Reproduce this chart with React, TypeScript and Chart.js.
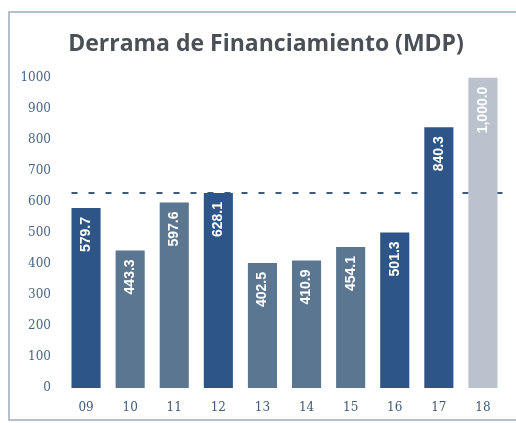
import React, { useEffect, useRef } from "react";
import { Chart, registerables } from "chart.js";

Chart.register(...registerables);

const categories = ["09", "10", "11", "12", "13", "14", "15", "16", "17", "18"];
const values = [579.7, 443.3, 597.6, 628.1, 402.5, 410.9, 454.1, 501.3, 840.3, 1000.0];
const valueLabels = ["579.7", "443.3", "597.6", "628.1", "402.5", "410.9", "454.1", "501.3", "840.3", "1,000.0"];
const barColors = [
  "#2e5587", "#5b7690", "#5b7690", "#2e5587", "#5b7690",
  "#5b7690", "#5b7690", "#2e5587", "#2e5587", "#b9c2cd",
];
const referenceValue = 628.1;
const yTicks = [0, 100, 200, 300, 400, 500, 600, 700, 800, 900, 1000];

const refLinePlugin = {
  id: "refLine",
  afterLayout(chart: any) {
    // widen the y scale's clip box so the long tick labels are not cut
    chart.scales.y.left = 0;
  },
  beforeDatasetsDraw(chart: any) {
    const { ctx, chartArea } = chart;
    const y = chart.scales.y.getPixelForValue(referenceValue);
    const meta = chart.getDatasetMeta(0);
    const first = meta.data[0] as any;
    const x0 = first.x - first.width / 2;
    const x1 = chartArea.right + 5;
    ctx.save();
    ctx.strokeStyle = "#3d5a7a";
    ctx.lineWidth = 2;
    ctx.setLineDash([6, 11]);
    ctx.beginPath();
    ctx.moveTo(x0, y);
    ctx.lineTo(x1, y);
    ctx.stroke();
    ctx.restore();
  },
};

const labelPlugin = {
  id: "barLabels",
  afterDatasetsDraw(chart: any) {
    const { ctx } = chart;
    const meta = chart.getDatasetMeta(0);
    ctx.save();
    ctx.font = "bold 14px 'Liberation Sans', Arial, sans-serif";
    ctx.fillStyle = "#ffffff";
    ctx.textAlign = "right";
    ctx.textBaseline = "middle";
    meta.data.forEach((bar: any, i: number) => {
      ctx.save();
      ctx.translate(bar.x, bar.y + 9);
      ctx.rotate(-Math.PI / 2);
      ctx.fillText(valueLabels[i], 0, 0);
      ctx.restore();
    });
    ctx.restore();
  },
};

export default function App() {
  const ref = useRef<HTMLCanvasElement | null>(null);
  useEffect(() => {
    if (!ref.current) return;
    const chart = new Chart(ref.current, {
      type: "bar",
      data: {
        labels: categories,
        datasets: [
          {
            data: values,
            backgroundColor: barColors,
            borderWidth: 0,
            categoryPercentage: 0.66,
            barPercentage: 1,
          },
        ],
      },
      options: {
        responsive: false,
        animation: false,
        layout: { padding: { left: 27, right: 11, top: 0, bottom: 8 } },
        plugins: {
          legend: { display: false },
          tooltip: { enabled: false },
          title: {
            display: true,
            text: "Derrama de Financiamiento (MDP)",
            color: "#4b5057",
            font: { family: "'Open Sans', sans-serif", size: 23, weight: "bold" },
            padding: { top: 31, bottom: 19 },
          },
        },
        scales: {
          x: {
            afterFit(scale: any) {
              scale.height = 27;
            },
            grid: { display: false, drawTicks: false },
            border: { display: false },
            ticks: {
              color: "#3f5a7a",
              font: { family: "'DejaVu Serif', serif", size: 12 },
              padding: 13,
            },
          },
          y: {
            min: 0,
            max: 1000,
            afterFit(scale: any) {
              scale.width = 37;
            },
            afterBuildTicks(scale: any) {
              scale.ticks = yTicks.map((v) => ({ value: v }));
            },
            grid: { display: false, drawTicks: false },
            border: { display: false },
            ticks: {
              color: "#4a6585",
              font: { family: "'DejaVu Serif', serif", size: 12 },
              padding: 13,
              callback: (v: any) => String(v),
            },
          },
        },
      },
      plugins: [refLinePlugin, labelPlugin],
    });
    return () => chart.destroy();
  }, []);
  return (
    <div style={{ position: "fixed", left: 0, top: 0, width: 516, height: 423, background: "#fff", overflow: "hidden" }}>
      <div
        style={{
          position: "absolute",
          left: 8,
          top: 11,
          width: 540,
          height: 410,
          border: "2px solid #b3c0ce",
          boxSizing: "border-box",
        }}
      />
      <canvas ref={ref} width={516} height={423} style={{ position: "absolute", left: 0, top: 0 }} />
    </div>
  );
}
